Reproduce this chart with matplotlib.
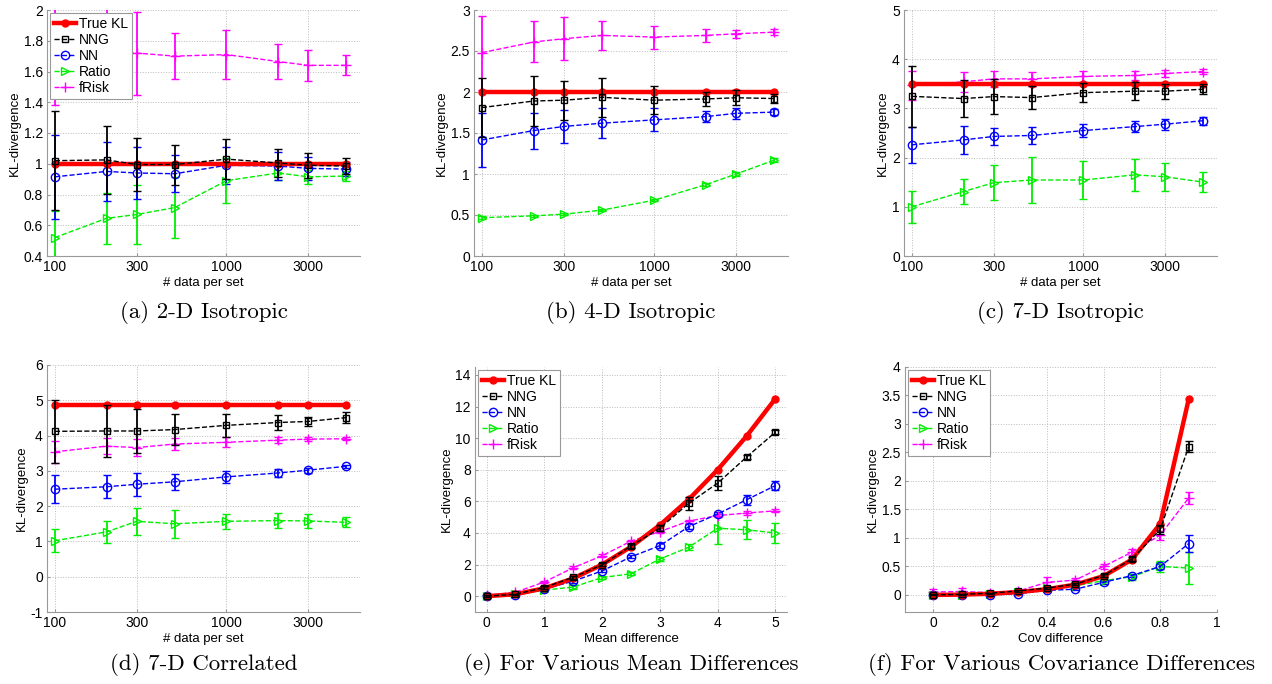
import numpy as np
import matplotlib
matplotlib.use("Agg")
import matplotlib.pyplot as plt
from matplotlib.lines import Line2D

plt.rcParams['font.family'] = ['Liberation Sans', 'DejaVu Sans']

# x values
n_data = [100, 200, 300, 500, 1000, 2000, 3000, 5000]
mean_diff = [0, 0.5, 1, 1.5, 2, 2.5, 3, 3.5, 4, 4.5, 5]
cov_diff = [0, 0.1, 0.2, 0.3, 0.4, 0.5, 0.6, 0.7, 0.8, 0.9]

# (a) 2-D Isotropic
a_true = [1.0, 1.0, 1.0, 1.0, 1.0, 1.0, 1.0, 1.0]
a_nng = [1.02, 1.025, 0.995, 0.995, 1.03, 1.005, 0.99, 0.985]
a_nng_err = [0.32, 0.22, 0.17, 0.13, 0.13, 0.09, 0.08, 0.05]
a_nn = [0.915, 0.95, 0.94, 0.935, 0.99, 0.985, 0.97, 0.965]
a_nn_err = [0.275, 0.19, 0.17, 0.12, 0.12, 0.09, 0.075, 0.045]
a_ratio = [0.52, 0.645, 0.67, 0.715, 0.89, 0.94, 0.915, 0.92]
a_ratio_err = [0.17, 0.165, 0.195, 0.2, 0.145, 0.045, 0.045, 0.03]
a_frisk = [1.76, 1.74, 1.72, 1.70, 1.71, 1.665, 1.64, 1.64]
a_frisk_err = [0.38, 0.3, 0.27, 0.15, 0.16, 0.115, 0.10, 0.065]

# (b) 4-D Isotropic
b_true = [2.0, 2.0, 2.0, 2.0, 2.0, 2.0, 2.0, 2.0]
b_nng = [1.81, 1.89, 1.90, 1.935, 1.90, 1.915, 1.93, 1.92]
b_nng_err = [0.36, 0.3, 0.24, 0.24, 0.17, 0.085, 0.09, 0.05]
b_nn = [1.415, 1.53, 1.58, 1.62, 1.66, 1.70, 1.74, 1.755]
b_nn_err = [0.33, 0.22, 0.2, 0.18, 0.14, 0.07, 0.07, 0.04]
b_ratio = [0.467, 0.49, 0.51, 0.56, 0.68, 0.87, 1.0, 1.17]
b_ratio_err = [0.015, 0.015, 0.015, 0.015, 0.015, 0.02, 0.02, 0.02]
b_frisk = [2.48, 2.61, 2.65, 2.69, 2.67, 2.69, 2.71, 2.73]
b_frisk_err = [0.45, 0.25, 0.26, 0.18, 0.14, 0.08, 0.05, 0.04]

# (c) 7-D Isotropic
c_true = [3.5, 3.5, 3.5, 3.5, 3.5, 3.5, 3.5, 3.5]
c_nng = [3.245, 3.2, 3.24, 3.22, 3.32, 3.35, 3.35, 3.39]
c_nng_err = [0.62, 0.37, 0.35, 0.24, 0.2, 0.18, 0.15, 0.1]
c_nn = [2.26, 2.36, 2.43, 2.45, 2.55, 2.63, 2.68, 2.75]
c_nn_err = [0.37, 0.28, 0.18, 0.18, 0.13, 0.11, 0.11, 0.08]
c_ratio = [1.0, 1.31, 1.49, 1.545, 1.545, 1.65, 1.61, 1.5]
c_ratio_err = [0.33, 0.26, 0.35, 0.47, 0.39, 0.32, 0.29, 0.2]
c_frisk = [3.47, 3.54, 3.6, 3.6, 3.65, 3.67, 3.71, 3.75]
c_frisk_err = [0.29, 0.2, 0.17, 0.14, 0.12, 0.1, 0.08, 0.05]

# (d) 7-D Correlated
d_true = [4.87, 4.87, 4.87, 4.87, 4.87, 4.87, 4.87, 4.87]
d_nng = [4.12, 4.13, 4.13, 4.17, 4.29, 4.37, 4.40, 4.51]
d_nng_err = [0.9, 0.73, 0.61, 0.44, 0.33, 0.2, 0.13, 0.16]
d_nn = [2.48, 2.55, 2.62, 2.69, 2.83, 2.94, 3.02, 3.13]
d_nn_err = [0.4, 0.32, 0.32, 0.22, 0.17, 0.11, 0.07, 0.05]
d_ratio = [1.02, 1.27, 1.57, 1.5, 1.57, 1.59, 1.58, 1.54]
d_ratio_err = [0.33, 0.31, 0.39, 0.4, 0.22, 0.22, 0.19, 0.14]
d_frisk = [3.54, 3.70, 3.66, 3.76, 3.81, 3.87, 3.9, 3.91]
d_frisk_err = [0.31, 0.23, 0.25, 0.17, 0.14, 0.08, 0.05, 0.04]

# (e) mean differences
e_true = [0, 0.125, 0.5, 1.125, 2.0, 3.125, 4.5, 6.125, 8.0, 10.125, 12.5]
e_nng = [0, 0.12, 0.55, 1.2, 1.98, 3.18, 4.3, 5.88, 7.15, 8.8, 10.38]
e_nng_err = [0.05, 0.05, 0.08, 0.1, 0.1, 0.15, 0.2, 0.4, 0.45, 0.15, 0.15]
e_nn = [0, 0.05, 0.45, 0.95, 1.6, 2.49, 3.2, 4.4, 5.2, 6.1, 7.0]
e_nn_err = [0.05, 0.05, 0.08, 0.1, 0.1, 0.1, 0.15, 0.15, 0.15, 0.3, 0.3]
e_ratio = [0.0, 0.15, 0.38, 0.58, 1.18, 1.42, 2.35, 3.1, 4.3, 4.2, 4.0]
e_ratio_err = [0.1, 0.1, 0.1, 0.1, 0.1, 0.1, 0.15, 0.2, 1.0, 0.6, 0.65]
e_frisk = [0.05, 0.25, 0.9, 1.8, 2.56, 3.48, 4.09, 4.75, 5.1, 5.26, 5.4]
e_frisk_err = [0.05, 0.05, 0.08, 0.08, 0.08, 0.1, 0.1, 0.1, 0.1, 0.1, 0.1]

# (f) covariance differences
f_true = [0, 0.005, 0.02, 0.05, 0.1, 0.18, 0.33, 0.62, 1.25, 3.43]
f_nng = [0.0, 0.01, 0.03, 0.07, 0.12, 0.19, 0.34, 0.63, 1.15, 2.6]
f_nng_err = [0.01, 0.01, 0.01, 0.02, 0.02, 0.02, 0.03, 0.04, 0.08, 0.1]
f_nn = [0.0, 0.0, 0.0, 0.02, 0.08, 0.1, 0.22, 0.34, 0.5, 0.9]
f_nn_err = [0.01, 0.01, 0.01, 0.01, 0.02, 0.02, 0.02, 0.03, 0.05, 0.15]
f_ratio = [0.0, 0.0, 0.02, 0.05, 0.12, 0.16, 0.25, 0.32, 0.5, 0.47]
f_ratio_err = [0.01, 0.01, 0.01, 0.02, 0.02, 0.03, 0.03, 0.05, 0.1, 0.28]
f_frisk = [0.05, 0.06, 0.04, 0.07, 0.22, 0.26, 0.5, 0.75, 1.05, 1.7]
f_frisk_err = [0.05, 0.07, 0.02, 0.02, 0.09, 0.04, 0.05, 0.05, 0.08, 0.1]

captions = ["(a) 2-D Isotropic", "(b) 4-D Isotropic", "(c) 7-D Isotropic",
            "(d) 7-D Correlated", "(e) For Various Mean Differences",
            "(f) For Various Covariance Differences"]

W, H = 1272, 684
fig = plt.figure(figsize=(W / 100, H / 100), dpi=100)


def box(l, t, r, b):
    return [l / W, 1 - b / H, (r - l) / W, (b - t) / H]


rects = [box(47, 10, 360, 256), box(474, 10, 788, 256), box(904, 10, 1217, 256),
         box(47, 365, 360, 612), box(475, 367, 787, 612), box(905, 367, 1217, 612)]

panels = [
    (n_data, a_true, a_nng, a_nng_err, a_nn, a_nn_err, a_ratio, a_ratio_err, a_frisk, a_frisk_err),
    (n_data, b_true, b_nng, b_nng_err, b_nn, b_nn_err, b_ratio, b_ratio_err, b_frisk, b_frisk_err),
    (n_data, c_true, c_nng, c_nng_err, c_nn, c_nn_err, c_ratio, c_ratio_err, c_frisk, c_frisk_err),
    (n_data, d_true, d_nng, d_nng_err, d_nn, d_nn_err, d_ratio, d_ratio_err, d_frisk, d_frisk_err),
    (mean_diff, e_true, e_nng, e_nng_err, e_nn, e_nn_err, e_ratio, e_ratio_err, e_frisk, e_frisk_err),
    (cov_diff, f_true, f_nng, f_nng_err, f_nn, f_nn_err, f_ratio, f_ratio_err, f_frisk, f_frisk_err),
]

ylims = [(0.4, 2), (0, 3), (0, 5), (-1, 6), (-1, 14.5), (-0.3, 4)]
yticks = [np.arange(0.4, 2.01, 0.2), np.arange(0, 3.01, 0.5), np.arange(0, 5.01, 1),
          np.arange(-1, 6.01, 1), np.arange(0, 14.01, 2), np.arange(0, 4.01, 0.5)]
caption_y = [313, 313, 313, 665, 665, 665]

# style per series
styles = {
    'True KL': dict(color='#ff0000', ls='-', lw=3.2, marker='o', ms=5, mfc='#ff0000'),
    'NNG': dict(color='black', ls='--', lw=1.0, marker='s', ms=5, mfc='none'),
    'NN': dict(color='#0000ff', ls='--', lw=1.0, marker='o', ms=6, mfc='none'),
    'Ratio': dict(color='#00ee00', ls='--', lw=1.0, marker='>', ms=6, mfc='none'),
    'fRisk': dict(color='#ff00ff', ls='--', lw=1.0, marker='+', ms=7, mfc='none'),
}
legend_order = ['True KL', 'NNG', 'NN', 'Ratio', 'fRisk']

for i, (rect, p) in enumerate(zip(rects, panels)):
    ax = fig.add_axes(rect)
    x, tr, nng, nng_e, nn, nn_e, ra, ra_e, fr, fr_e = p
    ax.errorbar(x, fr, yerr=fr_e, capsize=3, elinewidth=1.3, zorder=3, **styles['fRisk'])
    ax.errorbar(x, ra, yerr=ra_e, capsize=3, elinewidth=1.3, zorder=3, **styles['Ratio'])
    ax.errorbar(x, nn, yerr=nn_e, capsize=3, elinewidth=1.3, zorder=3, **styles['NN'])
    ax.plot(x, tr, zorder=4, **styles['True KL'])
    ax.errorbar(x, nng, yerr=nng_e, capsize=3, elinewidth=1.3, zorder=5, **styles['NNG'])

    if i < 4:
        ax.set_xscale('log')
        ax.set_xlim(90, 6000)
        ax.set_xticks([100, 300, 1000, 3000])
        ax.set_xticklabels(['100', '300', '1000', '3000'])
        ax.minorticks_off()
        ax.set_xlabel('# data per set', fontsize=9.5, labelpad=2)
    elif i == 4:
        ax.set_xlim(-0.2, 5.2)
        ax.set_xticks([0, 1, 2, 3, 4, 5])
        ax.set_xlabel('Mean difference', fontsize=9.5, labelpad=2)
    else:
        ax.set_xlim(-0.1, 1.0)
        ax.set_xticks([0, 0.2, 0.4, 0.6, 0.8, 1])
        ax.set_xticklabels(['0', '0.2', '0.4', '0.6', '0.8', '1'])
        ax.set_xlabel('Cov difference', fontsize=9.5, labelpad=2)

    ax.set_ylim(*ylims[i])
    ax.set_yticks(yticks[i])
    ax.set_yticklabels(['%g' % round(v, 2) for v in yticks[i]])
    ax.set_ylabel('KL-divergence', fontsize=9.5, labelpad=2)
    ax.tick_params(labelsize=10, length=2, direction='in', pad=3, color='#999999')
    ax.grid(True, ls=':', color='#bbbbbb', lw=0.7)
    for s in ['top', 'right']:
        ax.spines[s].set_visible(False)
    for s in ['left', 'bottom']:
        ax.spines[s].set_color('#999999')

    if i in (0, 4, 5):
        handles = [Line2D([], [], **styles[k]) for k in legend_order]
        leg = ax.legend(handles, legend_order, loc='upper left',
                        fontsize=10, fancybox=False, edgecolor='#999999', framealpha=1,
                        handlelength=1.6, handletextpad=0.2, labelspacing=0.15,
                        borderpad=0.3, borderaxespad=0.2)
        leg.get_frame().set_linewidth(0.8)
        leg.set_zorder(10)

    cx = (rect[0] + rect[2] / 2)
    fig.text(cx, 1 - caption_y[i] / H, captions[i], ha='center', va='center',
             fontsize=16.5, family='cmr10')

fig.savefig('out.png', dpi=100)
